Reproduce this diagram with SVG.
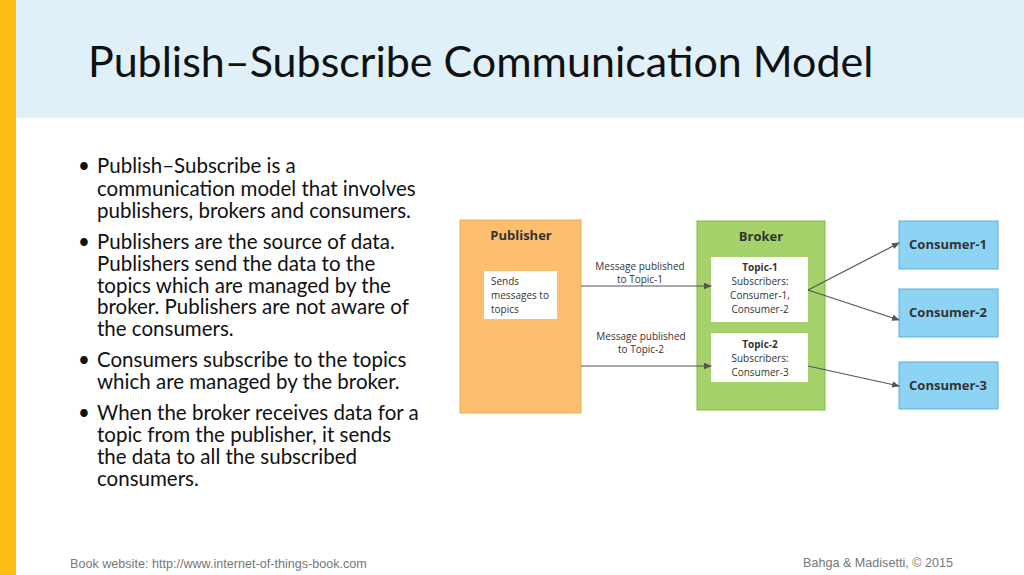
<svg xmlns="http://www.w3.org/2000/svg" width="1024" height="575" viewBox="0 0 1024 575">
<defs>
<style>
.t{font-family:Lato,"Open Sans",sans-serif;fill:#111}
.b{font-size:20.5px}
.d{font-family:"Open Sans",Lato,sans-serif;fill:#333}
.h{font-size:13px;font-weight:bold;text-anchor:middle}
.s{font-size:10px;text-anchor:middle}
.c{stroke:#555;stroke-width:1.2;fill:none;marker-end:url(#a)}
.f{font-family:"Liberation Sans",sans-serif;font-size:12.6px;fill:#777}
</style>
<marker id="a" markerWidth="8" markerHeight="8" refX="7" refY="4" orient="auto" markerUnits="userSpaceOnUse"><path d="M0,0.8 L8,4 L0,7.2z" fill="#555"/></marker>
</defs>
<rect width="1024" height="575" fill="#fff"/>
<rect x="16" y="0" width="1008" height="118" fill="#dff0f9"/>
<rect x="0" y="0" width="16" height="575" fill="#fbbd13"/>
<text class="t" x="88" y="77" font-size="43">Publish–Subscribe Communication Model</text>
<g class="t b">
<text x="78" y="173">•</text><text x="97" y="173">Publish–Subscribe is a</text>
<text x="97" y="196">communication model that involves</text>
<text x="97" y="218">publishers, brokers and consumers.</text>
<text x="78" y="249">•</text><text x="97" y="249">Publishers are the source of data.</text>
<text x="97" y="271">Publishers send the data to the</text>
<text x="97" y="293">topics which are managed by the</text>
<text x="97" y="314">broker. Publishers are not aware of</text>
<text x="97" y="336">the consumers.</text>
<text x="78" y="367">•</text><text x="97" y="367">Consumers subscribe to the topics</text>
<text x="97" y="389">which are managed by the broker.</text>
<text x="78" y="420">•</text><text x="97" y="420">When the broker receives data for a</text>
<text x="97" y="442">topic from the publisher, it sends</text>
<text x="97" y="464">the data to all the subscribed</text>
<text x="97" y="486">consumers.</text>
</g>
<g id="publisher">
<rect x="460" y="220" width="121" height="193" fill="#fbbf6f" stroke="#f0a850"/>
<text class="d h" x="521" y="240">Publisher</text>
<rect x="484" y="271" width="73" height="48" fill="#fff"/>
<text class="d" font-size="10" x="491" y="285">Sends</text>
<text class="d" font-size="10" x="491" y="299">messages to</text>
<text class="d" font-size="10" x="491" y="313">topics</text>
</g>
<g id="broker">
<rect x="697" y="221" width="128" height="189" fill="#a5d26a" stroke="#86b84a"/>
<text class="d h" x="761" y="241">Broker</text>
<rect x="711" y="257" width="97" height="65" fill="#fff"/>
<text class="d s" x="760" y="271" font-weight="bold">Topic-1</text>
<text class="d s" x="760" y="285">Subscribers:</text>
<text class="d s" x="760" y="299">Consumer-1,</text>
<text class="d s" x="760" y="313">Consumer-2</text>
<rect x="711" y="333" width="97" height="49" fill="#fff"/>
<text class="d s" x="760" y="348" font-weight="bold">Topic-2</text>
<text class="d s" x="760" y="362">Subscribers:</text>
<text class="d s" x="760" y="376">Consumer-3</text>
</g>
<g id="consumer1"><rect x="899" y="221" width="99" height="48" fill="#8dd3f3" stroke="#5bb0da"/><text class="d h" x="948" y="249">Consumer-1</text></g>
<g id="consumer2"><rect x="899" y="289" width="99" height="48" fill="#8dd3f3" stroke="#5bb0da"/><text class="d h" x="948" y="317">Consumer-2</text></g>
<g id="consumer3"><rect x="899" y="362" width="99" height="47" fill="#8dd3f3" stroke="#5bb0da"/><text class="d h" x="948" y="390">Consumer-3</text></g>
<g id="connectors">
<path class="c" d="M581,286 L711,286"/>
<path class="c" d="M581,366 L711,366"/>
<path class="c" d="M808,290 L899,243"/>
<path class="c" d="M808,290 L899,320"/>
<path class="c" d="M808,366 L899,386"/>
<text class="d s" x="640" y="270">Message published</text>
<text class="d s" x="640" y="283">to Topic-1</text>
<text class="d s" x="641" y="340">Message published</text>
<text class="d s" x="641" y="353">to Topic-2</text>
</g>
<text class="f" x="70" y="568">Book website: http://www.internet-of-things-book.com</text>
<text class="f" x="953" y="567" text-anchor="end">Bahga &amp; Madisetti, © 2015</text>
</svg>
